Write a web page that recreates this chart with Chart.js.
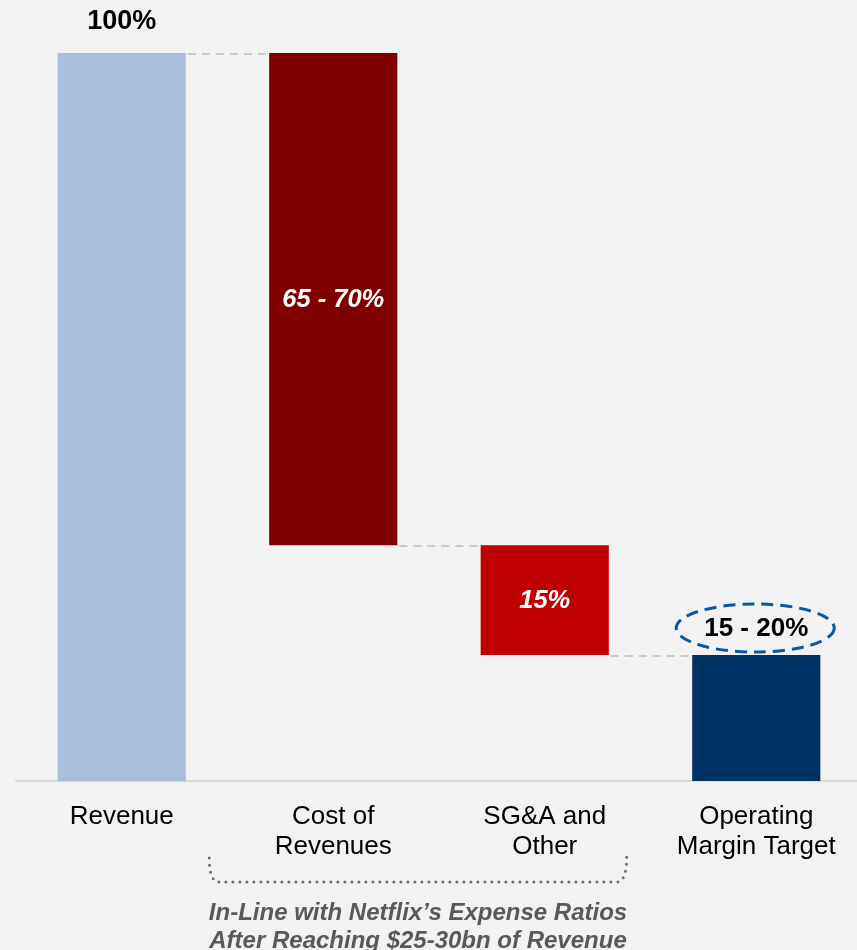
<!DOCTYPE html>
<html>
<head>
<meta charset="utf-8">
<script src="https://cdn.jsdelivr.net/npm/chart.js@4.4.1/dist/chart.umd.min.js"></script>
<style>
  html, body { margin: 0; padding: 0; background: #f2f2f2; overflow: hidden; }
  .wrap { position: absolute; left: 0; top: 0; width: 862px; height: 950px; }
</style>
</head>
<body>
<div class="wrap"><canvas id="chart"></canvas></div>
<script>
// Categories and the waterfall values (% of revenue)
const categories = [["Revenue"], ["Cost of", "Revenues"], ["SG&A and", "Other"], ["Operating", "Margin Target"]];
const barStart = [0, 32.4, 17.3, 0];
const barEnd = [100, 100, 32.4, 17.3];
const valueLabels = ["100%", "65 - 70%", "15%", "15 - 20%"];
const barColors = ["#aabedb", "#800000", "#c00000", "#003263"];
const footnote = ["In-Line with Netflix\u2019s Expense Ratios", "After Reaching $25-30bn of Revenue"];

const ctx = document.getElementById("chart");

// Draws connectors, value labels, the bracket and the footnote.
const extras = {
  id: "extras",
  afterDatasetsDraw(chart) {
    const c = chart.ctx;
    const meta = chart.getDatasetMeta(0);
    const y = chart.scales.y;
    const x = chart.scales.x;

    // dashed connectors between bars
    c.save();
    c.strokeStyle = "#c8c8c8";
    c.lineWidth = 2;
    c.setLineDash([8, 6]);
    const links = [barEnd[0], barStart[1], barStart[2]];
    links.forEach((v, i) => {
      const a = meta.data[i], b = meta.data[i + 1];
      const py = Math.round(y.getPixelForValue(v)) + 1;
      c.beginPath();
      c.moveTo(a.x + a.width / 2 + 2, py);
      c.lineTo(b.x - b.width / 2, py);
      c.stroke();
    });
    c.restore();

    // value labels
    c.save();
    c.textAlign = "center";
    c.textBaseline = "middle";
    const b0 = meta.data[0];
    c.fillStyle = "#000";
    c.font = "bold 27px Arial, 'Liberation Sans', sans-serif";
    c.fillText(valueLabels[0], b0.x, 22);

    c.fillStyle = "#fff";
    c.font = "italic bold 25.5px Arial, 'Liberation Sans', sans-serif";
    c.fillText(valueLabels[1], meta.data[1].x, 300);
    const b2 = meta.data[2];
    c.fillText(valueLabels[2], b2.x, (b2.y + b2.base) / 2 + 1);

    const b3 = meta.data[3];
    c.fillStyle = "#000";
    c.font = "bold 26px Arial, 'Liberation Sans', sans-serif";
    c.fillText(valueLabels[3], b3.x, b3.y - 26);

    // dashed ellipse around the target
    c.strokeStyle = "#0d57a1";
    c.lineWidth = 3;
    c.setLineDash([12, 7]);
    c.beginPath();
    c.ellipse(b3.x - 1, b3.y - 27, 79, 24, 0, 0, Math.PI * 2);
    c.stroke();
    c.restore();

    // dotted bracket under the two expense categories
    const left = x.getPixelForValue(1) - 124;
    const right = x.getPixelForValue(2) + 82;
    c.save();
    c.strokeStyle = "#6e6e6e";
    c.lineWidth = 3;
    c.lineCap = "round";
    c.setLineDash([0, 7]);
    c.beginPath();
    c.moveTo(left, 858);
    c.quadraticCurveTo(left, 882, left + 10, 882);
    c.lineTo(right - 10, 882);
    c.quadraticCurveTo(right, 882, right, 856);
    c.stroke();
    c.restore();

    // footnote
    c.save();
    c.fillStyle = "#595959";
    c.textAlign = "center";
    c.textBaseline = "middle";
    c.font = "italic bold 24px Arial, 'Liberation Sans', sans-serif";
    const fx = (left + right) / 2;
    c.fillText(footnote[0], fx, 913);
    c.fillText(footnote[1], fx, 941);
    c.restore();
  }
};

new Chart(ctx, {
  type: "bar",
  data: {
    labels: categories,
    datasets: [
      {
        data: barStart.map((s, i) => [s, barEnd[i]]),
        backgroundColor: barColors,
        borderWidth: 0,
        barPercentage: 0.606,
        categoryPercentage: 1,
      },
    ],
  },
  options: {
    responsive: true,
    maintainAspectRatio: false,
    animation: false,
    layout: { padding: { top: 53, left: 16, right: 0, bottom: 0 } },
    plugins: {
      legend: { display: false },
      tooltip: { enabled: false },
    },
    scales: {
      x: {
        grid: { display: false, drawTicks: false },
        border: { display: true, color: "#d9d9d9", width: 2 },
        ticks: {
          color: "#000",
          padding: 21,
          maxRotation: 0,
          autoSkip: false,
          font: { family: "Arial, 'Liberation Sans', sans-serif", size: 26, lineHeight: 1.15 },
        },
        afterFit(scale) { scale.height = 169; },
      },
      y: {
        display: false,
        min: 0,
        max: 100,
      },
    },
  },
  plugins: [extras],
});
</script>
</body>
</html>
